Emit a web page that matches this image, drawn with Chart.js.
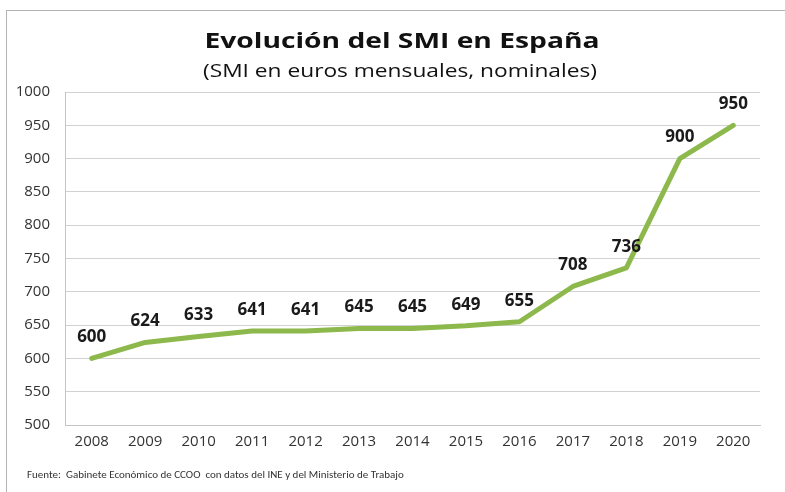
<!DOCTYPE html>
<html>
<head>
<meta charset="utf-8">
<script src="https://cdn.jsdelivr.net/npm/chart.js@4.4.1/dist/chart.umd.min.js"></script>
<style>
  html, body { margin: 0; padding: 0; background: #fff; }
  #wrap { width: 785px; height: 492px; position: relative; }
</style>
</head>
<body>
<div id="wrap"><canvas id="smiChart" width="785" height="492"></canvas></div>
<script>
/* ---------- Data ---------- */
const years = ['2008', '2009', '2010', '2011', '2012', '2013', '2014', '2015', '2016', '2017', '2018', '2019', '2020'];
const smi = [600, 624, 633, 641, 641, 645, 645, 649, 655, 708, 736, 900, 950];
const yTicks = [500, 550, 600, 650, 700, 750, 800, 850, 900, 950, 1000];

const titleText = 'Evolución del SMI en España';
const subtitleText = '(SMI en euros mensuales, nominales)';
const sourceText = 'Fuente:  Gabinete Económico de CCOO  con datos del INE y del Ministerio de Trabajo';

const FONT = "'Open Sans', sans-serif";
const FOOT_FONT = "Carlito, Lato, sans-serif";

// draw centred text stretched to a given width (the source image is wide)
function wideText(ctx, text, cx, cy, width) {
  const w = ctx.measureText(text).width;
  ctx.save();
  ctx.translate(cx, cy);
  ctx.scale(width / w, 1);
  ctx.fillText(text, 0, 0);
  ctx.restore();
}

/* ---------- Frame, titles, labels, footer ---------- */
const decorPlugin = {
  id: 'decor',
  beforeDraw(chart) {
    const ctx = chart.ctx;
    ctx.save();
    ctx.fillStyle = '#fff';
    ctx.fillRect(0, 0, chart.width, chart.height);
    ctx.strokeStyle = '#b4b4b4';
    ctx.lineWidth = 1;
    ctx.strokeRect(6.5, 10.5, 900, 600);
    ctx.restore();
  },
  afterDatasetsDraw(chart) {
    const ctx = chart.ctx;
    const meta = chart.getDatasetMeta(0);
    ctx.save();
    ctx.textAlign = 'center';
    ctx.textBaseline = 'alphabetic';

    ctx.fillStyle = '#111';
    ctx.font = "bold 22px " + FONT;
    wideText(ctx, titleText, 402, 48, 395);
    ctx.font = "19px " + FONT;
    wideText(ctx, subtitleText, 400, 77, 394);

    ctx.textBaseline = 'middle';
    ctx.font = "bold 17px " + FONT;
    ctx.fillStyle = '#1a1a1a';
    meta.data.forEach((pt, i) => {
      ctx.fillText(String(smi[i]), pt.x, pt.y - 21);
    });

    ctx.textAlign = 'left';
    ctx.font = "11px " + FOOT_FONT;
    ctx.fillStyle = '#333';
    ctx.fillText(sourceText, 27, 475);
    ctx.restore();
  }
};

new Chart(document.getElementById('smiChart'), {
  type: 'line',
  data: {
    labels: years,
    datasets: [{
      data: smi,
      borderColor: '#8cb84c',
      borderWidth: 5,
      pointRadius: 0,
      tension: 0,
      borderCapStyle: 'round',
      borderJoinStyle: 'round'
    }]
  },
  options: {
    responsive: false,
    animation: false,
    layout: { padding: { left: 8, top: 92, right: 25, bottom: 37 } },
    plugins: {
      legend: { display: false },
      tooltip: { enabled: false },
      title: { display: false }
    },
    scales: {
      x: {
        offset: true,
        grid: { display: false, drawTicks: false },
        border: { display: true, color: '#c4c4c4' },
        ticks: { color: '#333', font: { family: FONT, size: 15 }, padding: 8, maxRotation: 0 },
        afterFit(scale) { scale.height = 30; }
      },
      y: {
        min: 500,
        max: 1000,
        afterBuildTicks(scale) { scale.ticks = yTicks.map(v => ({ value: v })); },
        grid: { color: '#d2d2d2', lineWidth: 1, drawTicks: false },
        border: { display: true, color: '#c4c4c4' },
        ticks: {
          color: '#333',
          font: { family: FONT, size: 15 },
          padding: 15,
          callback: v => String(v)
        },
        afterFit(scale) { scale.width = 57; }
      }
    }
  },
  plugins: [decorPlugin]
});
</script>
</body>
</html>
